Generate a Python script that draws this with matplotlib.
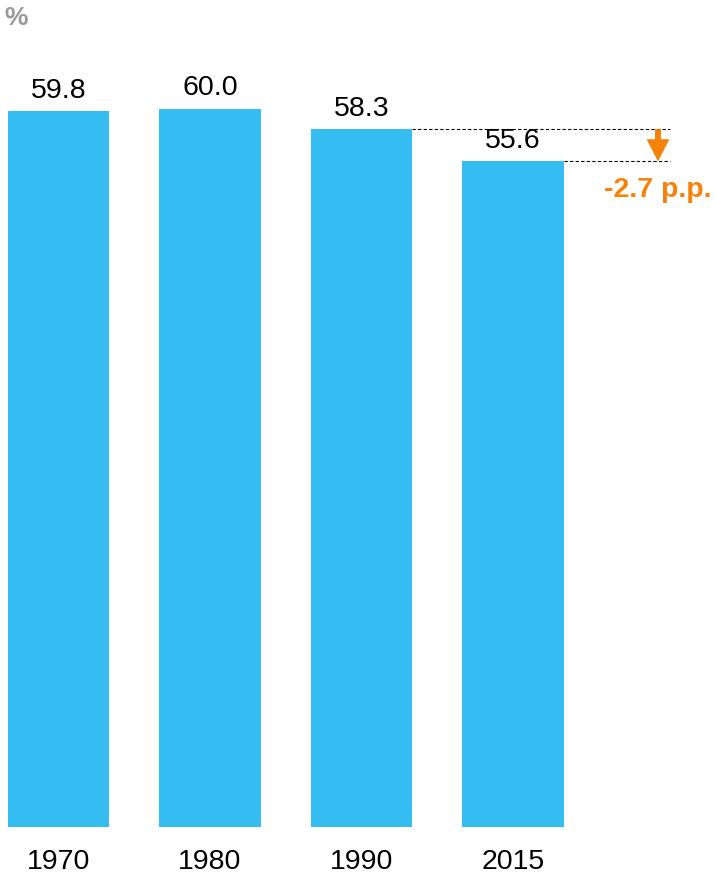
import matplotlib
matplotlib.use("Agg")
import matplotlib.pyplot as plt

years = ["1970", "1980", "1990", "2015"]
values = [59.8, 60.0, 58.3, 55.6]
change_label = "-2.7 p.p."
unit_label = "%"

BLUE = "#35BDF2"
ORANGE = "#F5820A"

plt.rcParams['font.family'] = ['Liberation Sans', 'DejaVu Sans']

W, H = 716, 879
fig = plt.figure(figsize=(W / 100, H / 100), dpi=100)
ax = fig.add_axes([0, 0, 1, 1])

pitch = 151.5
c0 = 58.5
ppu = 11.97
base_px = 828
ax.set_xlim(-c0 / pitch, (W - c0) / pitch)
ax.set_ylim(-(H - base_px) / ppu, base_px / ppu)
ax.axis('off')

x = list(range(len(years)))
bw = 0.667
ax.bar(x, values, width=bw, color=BLUE, edgecolor='none')

for xi, v, yr in zip(x, values, years):
    ax.annotate(f"{v:.1f}", xy=(xi, v), xytext=(0, 6), textcoords='offset points',
                ha='center', va='bottom', fontsize=20.5, color='black')
    ax.annotate(yr, xy=(xi, 0), xytext=(0, -24.5), textcoords='offset points',
                ha='center', va='center', fontsize=20.5, color='black')

# dashed reference lines
x_end = (670 - c0) / pitch
ax.plot([2 + bw / 2, x_end], [values[2], values[2]], ls=(0, (3, 2)), color='black', lw=0.8)
ax.plot([3 + bw / 2, x_end], [values[3], values[3]], ls=(0, (3, 2)), color='black', lw=0.8)

x_arr = (658 - c0) / pitch
ax.annotate('', xy=(x_arr, values[3]), xytext=(x_arr, values[2]),
            arrowprops=dict(arrowstyle='simple,head_width=16.5,head_length=16,tail_width=4.3',
                            mutation_scale=1, color=ORANGE, shrinkA=0, shrinkB=0, lw=0))
ax.text(x_arr, (base_px - 190) / ppu, change_label, ha='center', va='center',
        fontsize=20.5, fontweight='bold', color=ORANGE)

fig.text(4 / W, 1 - 18 / H, unit_label, ha='left', va='center', fontsize=19,
         fontweight='bold', color='#999999')

fig.savefig("out.png", dpi=100)
